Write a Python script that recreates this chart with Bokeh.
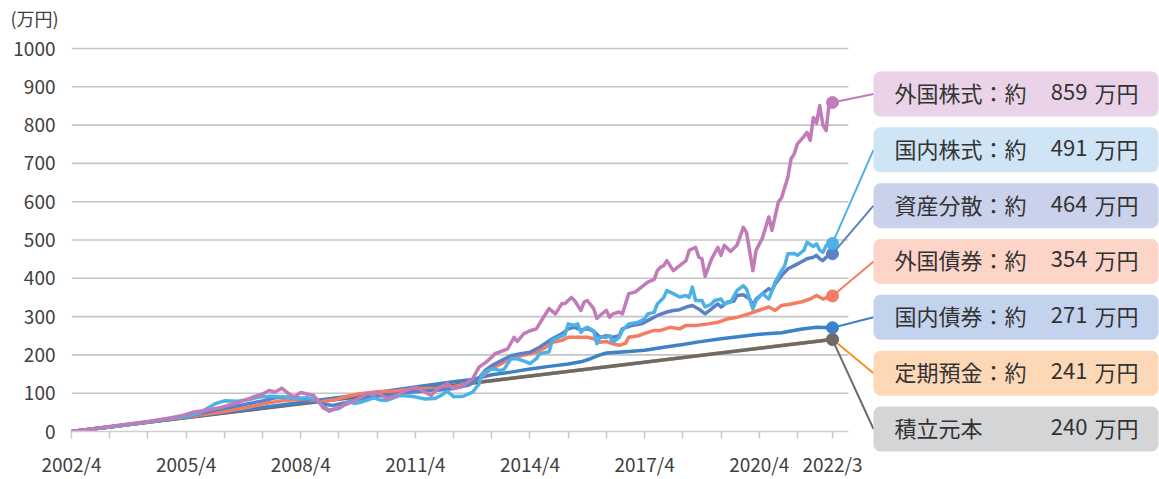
from bokeh.plotting import figure
from bokeh.models import FixedTicker
from bokeh.core.properties import value
from bokeh.embed import file_html
from bokeh.resources import INLINE

# ---------------- data (months since 2002/4, values in 万円) ----------------
x_label_months = [0, 36, 72, 108, 144, 180, 216, 239]
x_label_texts = ["2002/4", "2005/4", "2008/4", "2011/4", "2014/4", "2017/4", "2020/4", "2022/3"]
x_tick_months = [0, 12, 24, 36, 48, 60, 72, 84, 96, 108, 120, 132, 144, 156, 168, 180, 192, 204, 216, 228, 239]
y_ticks = [0, 100, 200, 300, 400, 500, 600, 700, 800, 900, 1000]

series_names = ["外国株式", "国内株式", "資産分散", "外国債券", "国内債券", "定期預金", "積立元本"]

fs_month = [0, 12, 24, 30, 35, 38, 42, 47, 52, 57, 60, 62, 64, 66, 68, 70, 72, 74, 76, 78, 79, 81, 84, 88, 91,
            93, 95, 96, 99, 101, 105, 108, 110, 113, 115, 118, 120, 123, 126, 128, 130, 132, 133, 137, 139, 140,
            142, 144, 146, 148, 150, 152, 154, 155, 157, 158, 160, 161, 162, 164, 165, 166, 168, 169, 170, 172,
            173, 175, 177, 179, 181, 183, 184, 185, 186, 187, 189, 191, 193, 194, 196, 197, 198, 199, 201, 203,
            204, 205, 207, 209, 211, 212, 214, 215, 217, 219, 220, 222, 223, 225, 226, 227, 228, 230, 231, 232,
            233, 234, 235, 236, 237, 238, 239]
fs_value = [0, 13, 26, 34, 42, 50, 55, 63, 75, 90, 98, 107, 103, 113, 100, 90, 102, 98, 94, 75, 62, 53, 63, 77, 90,
            99, 96, 103, 86, 90, 107, 116, 107, 94, 112, 125, 112, 120, 138, 168, 180, 194, 203, 216, 246, 235,
            255, 263, 268, 295, 321, 307, 334, 334, 350, 342, 316, 338, 342, 321, 295, 303, 316, 298, 307, 312,
            307, 360, 364, 377, 390, 397, 420, 429, 433, 446, 420, 433, 446, 473, 481, 455, 451, 405, 450, 481,
            460, 486, 470, 486, 533, 520, 420, 473, 505, 560, 525, 599, 610, 664, 712, 725, 751, 770, 781, 760,
            820, 805, 851, 800, 786, 860, 859]

ds_month = [0, 12, 24, 36, 40, 43, 45, 48, 52, 55, 59, 63, 67, 70, 74, 77, 79, 81, 84, 87, 89, 91, 95, 97, 99,
            103, 107, 111, 114, 116, 118, 120, 123, 126, 128, 129, 132, 135, 136, 138, 140, 143, 144, 146, 147,
            150, 151, 153, 155, 156, 158, 159, 160, 161, 162, 164, 165, 166, 168, 169, 170, 172, 173, 175, 178,
            180, 181, 183, 184, 186, 187, 189, 191, 193, 194, 195, 196, 198, 199, 201, 202, 204, 205, 207, 209,
            211, 212, 214, 215, 217, 219, 220, 221, 223, 224, 225, 227, 228, 230, 231, 233, 234, 235, 236, 237, 239]
ds_value = [0, 12, 25, 40, 48, 62, 72, 80, 79, 82, 90, 92, 90, 86, 88, 82, 65, 56, 60, 78, 73, 77, 88, 82, 81,
            94, 92, 85, 86, 94, 105, 91, 92, 103, 124, 151, 164, 159, 164, 190, 190, 181, 177, 190, 203,
            208, 238, 246, 253, 281, 277, 281, 259, 268, 272, 263, 229, 246, 246, 250, 233, 246, 264, 281, 285,
            294, 307, 311, 333, 350, 368, 360, 351, 355, 350, 377, 342, 342, 325, 333, 342, 346, 333, 338, 368,
            381, 372, 320, 342, 360, 346, 368, 390, 420, 433, 464, 465, 460, 473, 494, 483, 490, 473, 468, 485, 491]

mx_month = [0, 12, 24, 36, 42, 48, 54, 60, 64, 68, 72, 76, 79, 82, 86, 90, 95, 100, 105, 110, 115, 120, 125, 128,
            130, 132, 135, 138, 141, 144, 147, 151, 154, 156, 158, 160, 162, 164, 166, 168, 170, 172, 173, 176,
            179, 182, 184, 187, 189, 191, 193, 195, 197, 199, 201, 203, 204, 206, 208, 209, 211, 213, 214, 215,
            217, 219, 220, 221, 223, 225, 227, 229, 231, 233, 234, 235, 236, 237, 239]
mx_value = [0, 12, 25, 39, 50, 60, 70, 80, 88, 90, 86, 84, 72, 68, 75, 84, 92, 95, 102, 105, 108, 112, 122, 140,
            160, 172, 185, 198, 203, 207, 220, 242, 255, 268, 272, 265, 268, 262, 246, 250, 246, 250, 268, 277,
            281, 294, 303, 312, 316, 318, 325, 329, 320, 307, 320, 333, 325, 338, 340, 355, 357, 346, 329, 346,
            360, 373, 368, 385, 407, 425, 433, 442, 451, 455, 460, 451, 446, 455, 464]

fb_month = [0, 12, 24, 36, 48, 56, 62, 66, 70, 74, 78, 82, 86, 90, 96, 102, 108, 114, 120, 126, 129, 132, 135,
            138, 141, 144, 146, 149, 151, 154, 156, 159, 162, 164, 166, 168, 170, 172, 174, 175, 178, 181, 183,
            185, 188, 191, 193, 196, 200, 203, 206, 209, 212, 215, 219, 221, 223, 226, 229, 232, 234, 236, 239]
fb_value = [0, 12, 25, 38, 52, 64, 75, 80, 83, 84, 78, 82, 90, 98, 104, 106, 112, 112, 117, 128, 145, 165, 177,
            194, 198, 203, 207, 220, 233, 238, 246, 246, 246, 242, 233, 235, 229, 225, 230, 246, 250, 259, 264,
            264, 272, 268, 277, 277, 281, 285, 294, 298, 305, 314, 325, 316, 329, 333, 338, 346, 355, 346, 354]

db_month = [0, 12, 24, 36, 48, 60, 72, 84, 96, 108, 120, 126, 132, 138, 144, 150, 156, 160, 163, 166, 168, 174,
            180, 186, 192, 197, 204, 210, 216, 223, 229, 234, 239]
db_value = [0, 12, 25, 37, 50, 63, 76, 89, 102, 116, 130, 136, 148, 155, 163, 170, 176, 182, 190, 200, 205, 208,
            212, 220, 227, 234, 242, 248, 254, 258, 267, 272, 271]

td_month = [0, 60, 120, 180, 239]
td_value = [0, 61, 121, 181, 241]

pr_month = [0, 239]
pr_value = [0, 240]

line_colors = ["#c07bb8", "#4eb1e6", "#5c80c8", "#f47c62", "#3b82c8", "#f5901f", "#6b6b6b"]
box_colors = ["#ead3e8", "#cfe4f5", "#c9d2ea", "#fcd4c8", "#c3d3ee", "#fdd8b7", "#d4d5d7"]
label_texts = ["外国株式：約", "国内株式：約", "資産分散：約", "外国債券：約", "国内債券：約", "定期預金：約", "積立元本"]

months_all = [fs_month, ds_month, mx_month, fb_month, db_month, td_month, pr_month]
values_all = [fs_value, ds_value, mx_value, fb_value, db_value, td_value, pr_value]

# ---------------- layout ----------------
W, H = 1159, 479
B_LEFT, B_RIGHT, B_TOP, B_BOTTOM = 71, 0, 30, 48
PX_MONTH = 3.184      # pixels per month
PX_UNIT = 0.383       # pixels per 万円
frame_w = W - B_LEFT - B_RIGHT
frame_h = H - B_TOP - B_BOTTOM
x_end = frame_w / PX_MONTH
y_end = frame_h / PX_UNIT
axis_end = 244

FONT = "Noto Sans CJK JP"

p = figure(width=W, height=H, x_range=(0, x_end), y_range=(0, y_end),
           output_backend="svg", toolbar_location=None,
           min_border_left=B_LEFT, min_border_right=B_RIGHT,
           min_border_top=B_TOP, min_border_bottom=B_BOTTOM,
           title="(万円)")
p.outline_line_color = None
p.background_fill_color = "white"
p.border_fill_color = "white"
p.xgrid.visible = False
p.ygrid.visible = False

p.title.text_font = FONT
p.title.text_font_size = "18px"
p.title.text_font_style = "normal"
p.title.text_color = "#404040"
p.title.offset = -61
p.title.standoff = 0

# y axis
p.yaxis.ticker = FixedTicker(ticks=y_ticks, minor_ticks=[])
p.yaxis.axis_line_color = None
p.yaxis.major_tick_line_color = None
p.yaxis.minor_tick_line_color = None
p.yaxis.major_label_standoff = 10
p.yaxis.major_label_text_font = FONT
p.yaxis.major_label_text_font_size = "19px"
p.yaxis.major_label_text_color = "#404040"

# x axis
p.xaxis.ticker = FixedTicker(ticks=x_tick_months, minor_ticks=[])
overrides = {m: "" for m in x_tick_months}
for m, t in zip(x_label_months, x_label_texts):
    overrides[m] = t
p.xaxis.major_label_overrides = overrides
p.xaxis.bounds = (0, axis_end)
p.xaxis.axis_line_color = "#d0d0d0"
p.xaxis.axis_line_width = 1.5
p.xaxis.major_tick_in = 0
p.xaxis.major_tick_out = 7
p.xaxis.major_tick_line_color = "#c8c8c8"
p.xaxis.major_tick_line_width = 1.5
p.xaxis.minor_tick_line_color = None
p.xaxis.major_label_standoff = 11
p.xaxis.major_label_text_font = FONT
p.xaxis.major_label_text_font_size = "19px"
p.xaxis.major_label_text_color = "#404040"

# horizontal grid lines
grid_y = y_ticks[1:]
p.segment(x0=[0] * len(grid_y), x1=[axis_end] * len(grid_y), y0=grid_y, y1=grid_y,
          line_color="#c4c4c4", line_width=1.6)

# series lines, drawn in stacking order
draw_order = [5, 6, 4, 3, 2, 1, 0]
for i in draw_order:
    p.line(months_all[i], values_all[i], line_color=line_colors[i], line_width=3.5,
           line_join="round", line_cap="round")

# box layout (pixels converted to data units)
frame_bottom_px = H - B_BOTTOM
box_left = (873 - B_LEFT) / PX_MONTH
box_right = (1158 - B_LEFT) / PX_MONTH
first_center_px = 93.5
step_px = 55.83
half_px = 22.5
box_centers = [(frame_bottom_px - (first_center_px + i * step_px)) / PX_UNIT for i in range(7)]
half = half_px / PX_UNIT

# connectors and end markers
for i in draw_order:
    m_end, v_end = months_all[i][-1], values_all[i][-1]
    p.line([m_end, box_left], [v_end, box_centers[i]], line_color=line_colors[i], line_width=2)
for i in draw_order:
    m_end, v_end = months_all[i][-1], values_all[i][-1]
    p.scatter([m_end], [v_end], marker="circle", size=12, fill_color=line_colors[i],
              line_color=line_colors[i])

# boxes as quads on the overlay level (not clipped by the frame)
box_kw = dict(left=[box_left] * 7, right=[box_right] * 7,
              bottom=[c - half for c in box_centers], top=[c + half for c in box_centers],
              fill_color=box_colors, line_color=None)
try:
    rb = p.quad(border_radius=7, **box_kw)
except Exception:
    rb = p.quad(**box_kw)
rb.level = "overlay"

# box texts
lab_x = (894 - B_LEFT) / PX_MONTH
num_x = (1087 - B_LEFT) / PX_MONTH
unit_x = (1138 - B_LEFT) / PX_MONTH
text_shift = 2 / PX_UNIT
text_y = [c + text_shift for c in box_centers]
numbers = [str(v[-1]) for v in values_all]
text_kw = dict(text_font=value(FONT), text_font_size="22px", text_color="#333333",
               text_baseline="middle")
r1 = p.text(x=[lab_x] * 7, y=text_y, text=label_texts, text_align="left", **text_kw)
r2 = p.text(x=[num_x] * 7, y=text_y, text=numbers, text_align="right", **text_kw)
r3 = p.text(x=[unit_x] * 7, y=text_y, text=["万円"] * 7, text_align="right", **text_kw)
for r in (r1, r2, r3):
    r.level = "overlay"

open("out.html", "w").write(file_html(p, INLINE))
